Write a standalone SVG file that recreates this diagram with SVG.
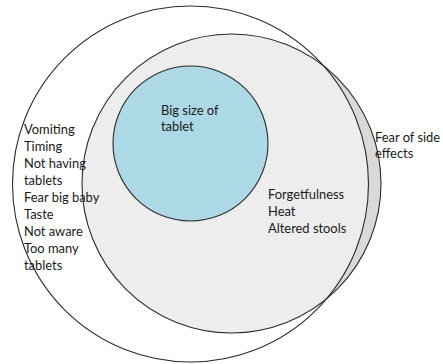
<svg xmlns="http://www.w3.org/2000/svg" width="443" height="364" viewBox="0 0 443 364">
  <style>
    .ring { fill: none; stroke: #2b2b2b; stroke-width: 1.1; }
    .lbl { font-family: Lato, "Liberation Sans", Arial, sans-serif; font-size: 12.9px; fill: #1a1a1a; }
  </style>
  <defs>
    <clipPath id="insideOuter">
      <circle cx="190.5" cy="184" r="178"/>
    </clipPath>
  </defs>
  <rect width="443" height="364" fill="#ffffff"/>
  <g id="outer-set">
    <circle cx="190.5" cy="184" r="178" fill="#ffffff"/>
  </g>
  <g id="middle-set">
    <circle cx="231.5" cy="183.5" r="149.5" fill="#d9d9d9"/>
    <circle cx="231.5" cy="183.5" r="149.5" fill="#ededed" clip-path="url(#insideOuter)"/>
  </g>
  <g id="inner-set">
    <circle cx="190.5" cy="143.5" r="77.5" fill="#add8e6"/>
  </g>
  <g id="outlines">
    <circle class="ring" cx="190.5" cy="184" r="178"/>
    <circle class="ring" cx="231.5" cy="183.5" r="149.5"/>
    <circle class="ring" cx="190.5" cy="143.5" r="77.5"/>
  </g>
  <g id="label-outer" class="lbl">
    <text x="24" y="133.5">Vomiting</text>
    <text x="24" y="150.5">Timing</text>
    <text x="24" y="167.5">Not having</text>
    <text x="24" y="184.5">tablets</text>
    <text x="24" y="201.5">Fear big baby</text>
    <text x="24" y="218.5">Taste</text>
    <text x="24" y="235.5">Not aware</text>
    <text x="24" y="252.5">Too many</text>
    <text x="24" y="269.5">tablets</text>
  </g>
  <g id="label-inner" class="lbl">
    <text x="161" y="114.5">Big size of</text>
    <text x="161" y="131">tablet</text>
  </g>
  <g id="label-middle" class="lbl">
    <text x="268" y="199.3">Forgetfulness</text>
    <text x="268" y="216">Heat</text>
    <text x="268" y="232.7">Altered stools</text>
  </g>
  <g id="label-crescent" class="lbl">
    <text x="375" y="141.7">Fear of side</text>
    <text x="375" y="158.3">effects</text>
  </g>
</svg>
